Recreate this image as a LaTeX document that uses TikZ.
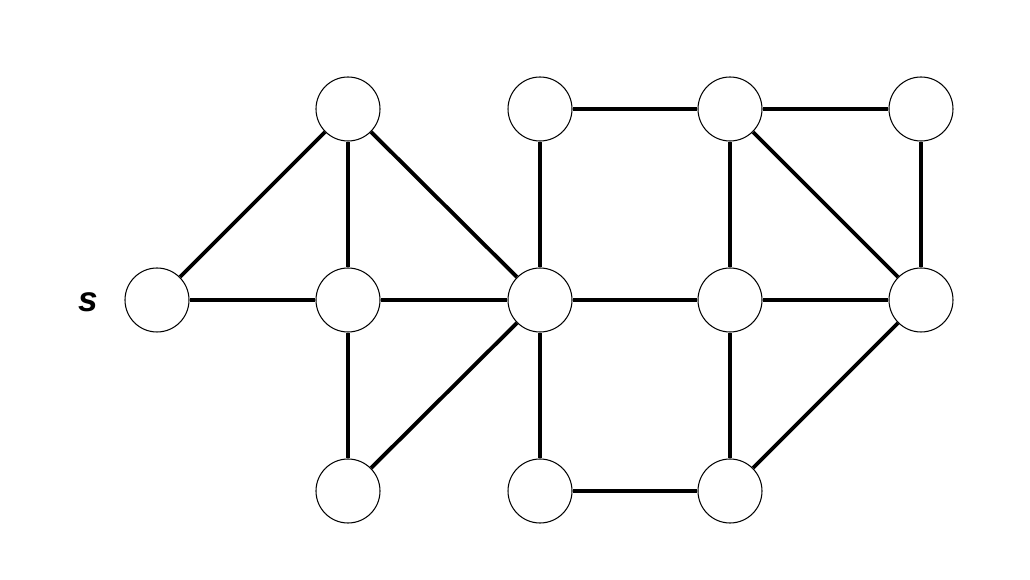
\documentclass[tikz,border=0pt]{standalone}
\usepackage{fontspec}
\setmainfont{Liberation Sans}
\usepackage{tikz}
\usetikzlibrary{positioning}

\begin{document}
\begin{tikzpicture}[vertex/.style={circle,draw,line width=.3pt,fill=white,minimum size=.64cm,inner sep=0pt},
  link/.style={line width=1.1pt}]
\useasboundingbox (0,0) rectangle (10.30,5.80);
  \node[vertex] (s) at (1.57,2.80) {};
  \node[vertex] (a1) at (3.48,4.71) {};
  \node[vertex] (a2) at (3.48,2.80) {};
  \node[vertex] (a3) at (3.48,0.89) {};
  \node[vertex] (b1) at (5.40,4.71) {};
  \node[vertex] (b2) at (5.40,2.80) {};
  \node[vertex] (b3) at (5.40,0.89) {};
  \node[vertex] (c1) at (7.30,4.71) {};
  \node[vertex] (c2) at (7.30,2.80) {};
  \node[vertex] (c3) at (7.30,0.89) {};
  \node[vertex] (d1) at (9.21,4.71) {};
  \node[vertex] (d2) at (9.21,2.80) {};
  \node[left=.14cm of s,yshift=-.02cm,font=\fontsize{10}{12}\selectfont\bfseries\itshape] (slabel) {s};
      \draw[link] (s) -- (a1);
      \draw[link] (s) -- (a2);
      \draw[link] (a1) -- (a2);
      \draw[link] (a1) -- (b2);
      \draw[link] (a2) -- (b2);
      \draw[link] (a2) -- (a3);
      \draw[link] (a3) -- (b2);
      \draw[link] (b1) -- (c1);
      \draw[link] (b1) -- (b2);
      \draw[link] (b2) -- (c2);
      \draw[link] (b2) -- (b3);
      \draw[link] (b3) -- (c3);
      \draw[link] (c1) -- (d1);
      \draw[link] (c1) -- (c2);
      \draw[link] (c1) -- (d2);
      \draw[link] (d1) -- (d2);
      \draw[link] (c2) -- (d2);
      \draw[link] (c2) -- (c3);
      \draw[link] (c3) -- (d2);
\end{tikzpicture}
\end{document}
